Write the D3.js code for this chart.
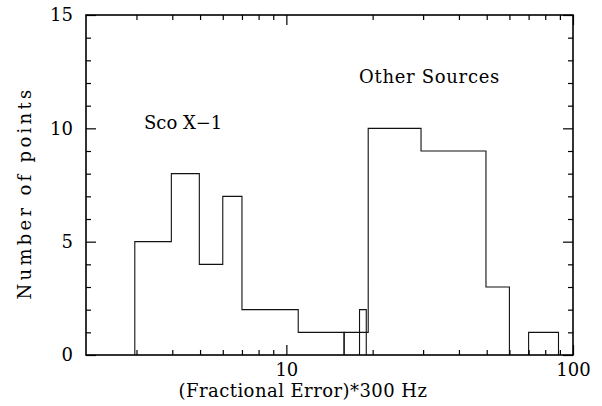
<!DOCTYPE html>
<html>
<head>
<meta charset="utf-8">
<script src="https://cdn.jsdelivr.net/npm/d3@7"></script>
<style>
  body { margin: 0; background: #fff; }
  text { font-family: "DejaVu Serif", serif; fill: #000; }
</style>
</head>
<body>
<div id="wrap"></div>
<script>
// Sco X-1 histogram (bin edges and counts)
var scoEdges = [2.96, 3.97, 4.97, 6, 7, 11, 15.9];
var scoCounts = [5, 8, 4, 7, 2, 1];
// other sources histogram
var otherEdges = [15.9, 19.3, 29.5, 49.7, 60];
var otherCounts = [1, 10, 9, 3];
// isolated bins
var extraLo = [18, 70];
var extraHi = [19, 89];
var extraCounts = [2, 1];

var xMajor = [10, 100];
var xMinor = [3, 4, 5, 6, 7, 8, 9, 20, 30, 40, 50, 60, 70, 80, 90];
var yMajor = [0, 5, 10, 15];
var yMinor = [1, 2, 3, 4, 6, 7, 8, 9, 11, 12, 13, 14];

var W = 602, H = 406;
var margin = {left: 86, right: 29, top: 15, bottom: 51};

var svg = d3.select('#wrap').append('svg')
  .attr('width', W)
  .attr('height', H);

var x = d3.scaleLog().domain([2, 100]).range([margin.left, W - margin.right]),
    y = d3.scaleLinear().domain([0, 15]).range([H - margin.bottom, margin.top]);

var x0 = margin.left, x1 = W - margin.right, y0 = H - margin.bottom, y1 = margin.top;

// step outline of a histogram
function steps(edges, counts) {
  var pts = [[edges[0], 0]];
  for (var i = 0; i < counts.length; i++) {
    pts.push([edges[i], counts[i]]);
    pts.push([edges[i + 1], counts[i]]);
  }
  pts.push([edges[edges.length - 1], 0]);
  return pts;
}

var line = d3.line()
  .x(function(d){return x(d[0]);})
  .y(function(d){return y(d[1]);});

var hist = svg.append('g')
  .attr('fill', 'none')
  .attr('stroke', '#111')
  .attr('stroke-width', 1.1);

hist.append('path').attr('d', line(steps(scoEdges, scoCounts)));
hist.append('path').attr('d', line(steps(otherEdges, otherCounts)));
for (var k = 0; k < extraLo.length; k++) {
  hist.append('path').attr('d', line(steps([extraLo[k], extraHi[k]], [extraCounts[k]])));
}

// axes, ticks pointing inwards on all four sides
function axisStyle(g) {
  g.select('.domain').remove();
  g.selectAll('.tick line').attr('stroke', '#000').attr('stroke-width', 1.2);
  g.selectAll('.tick text').style('font-family', '"DejaVu Serif", serif').style('font-size', '18px').attr('fill', '#000');
}

svg.append('g').attr('transform', 'translate(0,' + y0 + ')')
  .call(d3.axisBottom(x).tickValues(xMinor).tickSize(-5).tickFormat(''))
  .call(axisStyle);
svg.append('g').attr('transform', 'translate(0,' + y0 + ')')
  .call(d3.axisBottom(x).tickValues(xMajor).tickSize(-10).tickPadding(8).tickFormat(d3.format('d')))
  .call(axisStyle);
svg.append('g').attr('transform', 'translate(0,' + y1 + ')')
  .call(d3.axisTop(x).tickValues(xMinor).tickSize(-5).tickFormat(''))
  .call(axisStyle);
svg.append('g').attr('transform', 'translate(0,' + y1 + ')')
  .call(d3.axisTop(x).tickValues(xMajor).tickSize(-10).tickFormat(''))
  .call(axisStyle);

svg.append('g').attr('transform', 'translate(' + x0 + ',0)')
  .call(d3.axisLeft(y).tickValues(yMinor).tickSize(-5).tickFormat(''))
  .call(axisStyle);
svg.append('g').attr('transform', 'translate(' + x0 + ',0)')
  .call(d3.axisLeft(y).tickValues(yMajor).tickSize(-10).tickPadding(13))
  .call(axisStyle);
svg.append('g').attr('transform', 'translate(' + x1 + ',0)')
  .call(d3.axisRight(y).tickValues(yMinor).tickSize(-5).tickFormat(''))
  .call(axisStyle);
svg.append('g').attr('transform', 'translate(' + x1 + ',0)')
  .call(d3.axisRight(y).tickValues(yMajor).tickSize(-10).tickFormat(''))
  .call(axisStyle);

// frame
svg.append('rect')
  .attr('x', x0).attr('y', y1)
  .attr('width', x1 - x0).attr('height', y0 - y1)
  .attr('fill', 'none').attr('stroke', '#000').attr('stroke-width', 1.6);

// labels
svg.append('text')
  .attr('x', 303).attr('y', 397)
  .attr('text-anchor', 'middle')
  .style('font-size', '18px')
  .style('letter-spacing', '0.45px')
  .text('(Fractional Error)*300 Hz');

svg.append('text')
  .attr('transform', 'translate(31,193) rotate(-90)')
  .attr('text-anchor', 'middle')
  .style('font-size', '18px')
  .style('letter-spacing', '3.3px')
  .text('Number of points');

svg.append('text')
  .attr('x', 144).attr('y', 129)
  .style('font-size', '18px')
  .text('Sco X\u22121');

svg.append('text')
  .attr('x', 359).attr('y', 83)
  .style('font-size', '18px')
  .style('letter-spacing', '0.7px')
  .text('Other Sources');
</script>
</body>
</html>
